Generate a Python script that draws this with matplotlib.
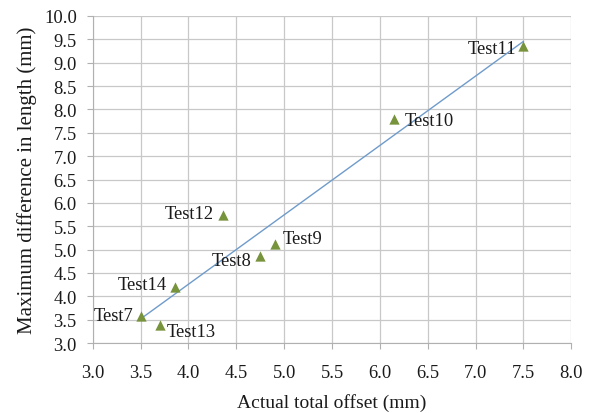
import matplotlib.pyplot as plt
import numpy as np

plt.rcParams['font.family'] = ['Liberation Serif', 'DejaVu Serif']

names = ['Test7', 'Test13', 'Test14', 'Test12', 'Test8', 'Test9', 'Test10', 'Test11']
offset = [3.5, 3.7, 3.86, 4.36, 4.75, 4.9, 6.15, 7.5]
diff = [3.58, 3.38, 4.2, 5.75, 4.87, 5.12, 7.8, 9.35]
# label offsets in pixels (dx, dy) and alignment
lab_pos = [(-7, 0, 'right'), (7, -6, 'left'), (-8, 2, 'right'), (-9, 1, 'right'),
           (-9, -5, 'right'), (8, 5, 'left'), (10, -2, 'left'), (-7, -2, 'right')]

fig = plt.figure(figsize=(5.95, 4.14), dpi=100)
ax = fig.add_axes([0.156, 0.169, 0.804, 0.790])

# linear trend line
k, b = np.polyfit(offset, diff, 1)
xs = np.array([min(offset), max(offset)])
ax.plot(xs, k*xs + b, color='#6f9bcb', linewidth=1.0, zorder=2)

ax.scatter(offset, diff, marker='^', s=55, color='#77933c', zorder=3, linewidths=0)

for n, x, y, (dx, dy, ha) in zip(names, offset, diff, lab_pos):
    ax.annotate(n, (x, y), xytext=(dx, dy), textcoords='offset pixels',
                ha=ha, va='center', fontsize=13.3, color='#1a1a1a')

ax.set_xlim(3.0, 8.0)
ax.set_ylim(3.0, 10.0)
ax.set_xticks(np.arange(3.0, 8.01, 0.5))
ax.set_yticks(np.arange(3.0, 10.01, 0.5))
ax.xaxis.set_major_formatter(plt.FormatStrFormatter('%.1f'))
ax.yaxis.set_major_formatter(plt.FormatStrFormatter('%.1f'))
ax.grid(True, color='#c8c8c8', linewidth=0.9)
ax.set_axisbelow(True)
for s in ['top', 'right']:
    ax.spines[s].set_visible(False)
for s in ['left', 'bottom']:
    ax.spines[s].set_color('#b0b0b0')
ax.tick_params(colors='#b0b0b0', labelcolor='#1a1a1a', labelsize=13.3, length=4)
ax.tick_params(axis='x', pad=11)
ax.tick_params(axis='y', pad=7.5)

ax.set_xlabel('Actual total offset (mm)', fontsize=14, color='#1a1a1a', labelpad=9)
ax.set_ylabel('Maximum difference in length (mm)', fontsize=15, color='#1a1a1a', labelpad=5)

plt.savefig('out.png', dpi=100)
